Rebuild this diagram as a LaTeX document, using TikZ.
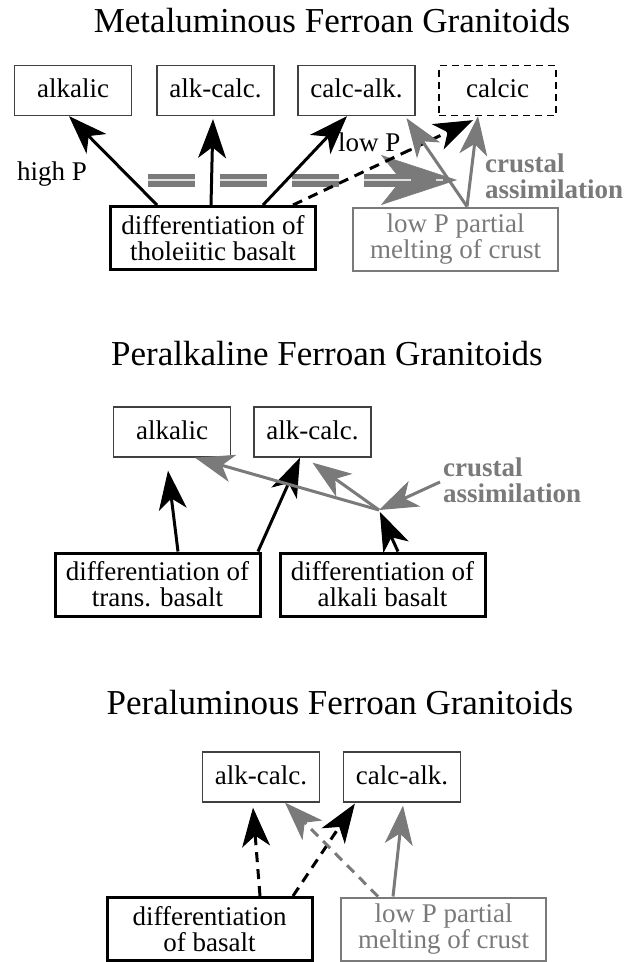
\documentclass[tikz,border=0pt]{standalone}
\usepackage{fontspec}
\setmainfont{Liberation Serif}
\usepackage{xcolor}
\usetikzlibrary{arrows.meta}

\definecolor{crustgray}{gray}{0.48}
\definecolor{boxgray}{gray}{0.25}
\newcommand{\titlefont}{\fontsize{35}{40}\selectfont}
\newcommand{\boxfont}{\fontsize{27}{26}\selectfont}

\begin{document}
\begin{tikzpicture}[x=1pt, y=-1pt, line join=miter,
    headtip/.tip={Stealth[length=39pt,width=28pt,inset=11pt,line width=1pt]},
    bighead/.tip={Stealth[length=76pt,width=50pt,inset=20pt,line width=0.5pt]},
    title/.style={font=\titlefont, anchor=base, inner sep=0pt},
    classbox/.style={draw=boxgray, line width=1.3pt, minimum width=117pt, minimum height=50pt, inner sep=0pt, font=\boxfont, text depth=4pt},
    sourcebox/.style={draw, line width=3pt, minimum width=205pt, minimum height=63pt, inner sep=0pt, font=\boxfont, align=center},
    meltbox/.style={sourcebox, draw=crustgray, line width=2pt, text=crustgray},
    ptlabel/.style={font=\boxfont, inner sep=0pt, anchor=base west},
    crustlabel/.style={font=\boxfont\bfseries, text=crustgray, align=left, inner sep=0pt, anchor=west},
    route/.style={line width=3pt, -headtip},
    dashedroute/.style={route, dash pattern=on 10pt off 7pt},
    crustroute/.style={route, draw=crustgray},
    band/.style={draw=crustgray, line width=13pt, dash pattern=on 47pt off 25pt, -bighead},
    bandcore/.style={draw=gray!25, line width=1.5pt, dash pattern=on 47pt off 25pt}]

    \path[use as bounding box, fill=white] (0,0) rectangle (628,962);

    % Metaluminoso
    \node[title] (title1) at (332,32) {Metaluminous Ferroan Granitoids};
    \node[classbox] (alk1) at (73,90.5) {alkalic};
    \node[classbox] (alkc1) at (215.5,90.5) {alk-calc.};
    \node[classbox] (calk1) at (356.5,90.5) {calc-alk.};
    \node[classbox, draw=black, dash pattern=on 7pt off 5pt] (calcic1) at (497.5,90.5) {calcic};
    \node[sourcebox] (thol1) at (213,238) {differentiation of\\tholeiitic basalt};
    \node[meltbox] (melt1) at (455.5,239) {low P partial\\melting of crust};
    \node[ptlabel] (highP) at (17,180) {high P};
    \node[ptlabel] (lowP) at (338,151) {low P .};
    \node[crustlabel] (crust1) at (485,176) {crustal\\assimilation};

    % Banda tratteggiata
    \coordinate (bandL) at (148,180);
    \coordinate (bandR) at (457,180);
    \draw[band] (bandL) -- (bandR);
    \draw[bandcore] (bandL) -- ([xshift=-14pt]bandR);

    \draw[route] ([xshift=-56pt]thol1.north) -- ([xshift=-4pt]alk1.south);
    \draw[route] ([xshift=-2pt]thol1.north) -- ([xshift=-2.5pt,yshift=-3pt]alkc1.south);
    \draw[route] ([xshift=50pt]thol1.north) -- ([xshift=-9.5pt]calk1.south);
    \draw[dashedroute] ([xshift=80pt]thol1.north) -- ([xshift=-24.5pt,yshift=-4pt]calcic1.south);
    \draw[crustroute] ([xshift=11.5pt]melt1.north) -- ([xshift=50pt,yshift=-2pt]calk1.south);
    \draw[crustroute] ([xshift=11.5pt]melt1.north) -- ([xshift=-19.5pt]calcic1.south);

    % Peralcalino
    \node[title] (title2) at (327,365) {Peralkaline Ferroan Granitoids};
    \node[classbox] (alk2) at (172,432) {alkalic};
    \node[classbox] (alkc2) at (312.5,432) {alk-calc.};
    \node[sourcebox] (trans2) at (157.5,584.5) {differentiation of\\trans. basalt};
    \node[sourcebox] (alkb2) at (382.5,584.5) {differentiation of\\alkali basalt};
    \node[crustlabel] (crust2) at (443,480) {crustal\\assimilation};
    \coordinate (mix2) at (379,510);

    \draw[route] ([xshift=20.5pt]trans2.north) -- ([xshift=-4pt,yshift=-13pt]alk2.south);
    \draw[route] ([xshift=100.5pt]trans2.north) -- ([xshift=-12.5pt]alkc2.south);
    \draw[route, shorten >=2pt] ([xshift=15.5pt]alkb2.north) -- (mix2);
    \draw[crustroute] (mix2) -- ([xshift=23pt]alk2.south);
    \draw[crustroute] (mix2) -- ([yshift=-5pt]alkc2.south);
    \draw[crustroute] ([xshift=-3pt,yshift=-2pt]crust2.west) -- (mix2);

    % Peralluminoso
    \node[title] (title3) at (340,714) {Peraluminous Ferroan Granitoids};
    \node[classbox] (alkc3) at (261,777) {alk-calc.};
    \node[classbox] (calk3) at (402,777) {calc-alk.};
    \node[sourcebox] (bas3) at (209.5,929) {differentiation\\of basalt};
    \node[meltbox] (melt3) at (443.5,929) {low P partial\\melting of crust};

    \draw[dashedroute] ([xshift=50.5pt]bas3.north) -- ([xshift=-8pt,yshift=-5pt]alkc3.south);
    \draw[dashedroute] ([xshift=83.5pt]bas3.north) -- ([xshift=12pt,yshift=-1pt]calk3.south west);
    \draw[crustroute, dash pattern=on 10pt off 7pt] ([xshift=-65.5pt]melt3.north) -- ([xshift=24pt]alkc3.south);
    \draw[crustroute] ([xshift=-50.5pt]melt3.north) -- ([xshift=1pt,yshift=-3pt]calk3.south);

\end{tikzpicture}
\end{document}
